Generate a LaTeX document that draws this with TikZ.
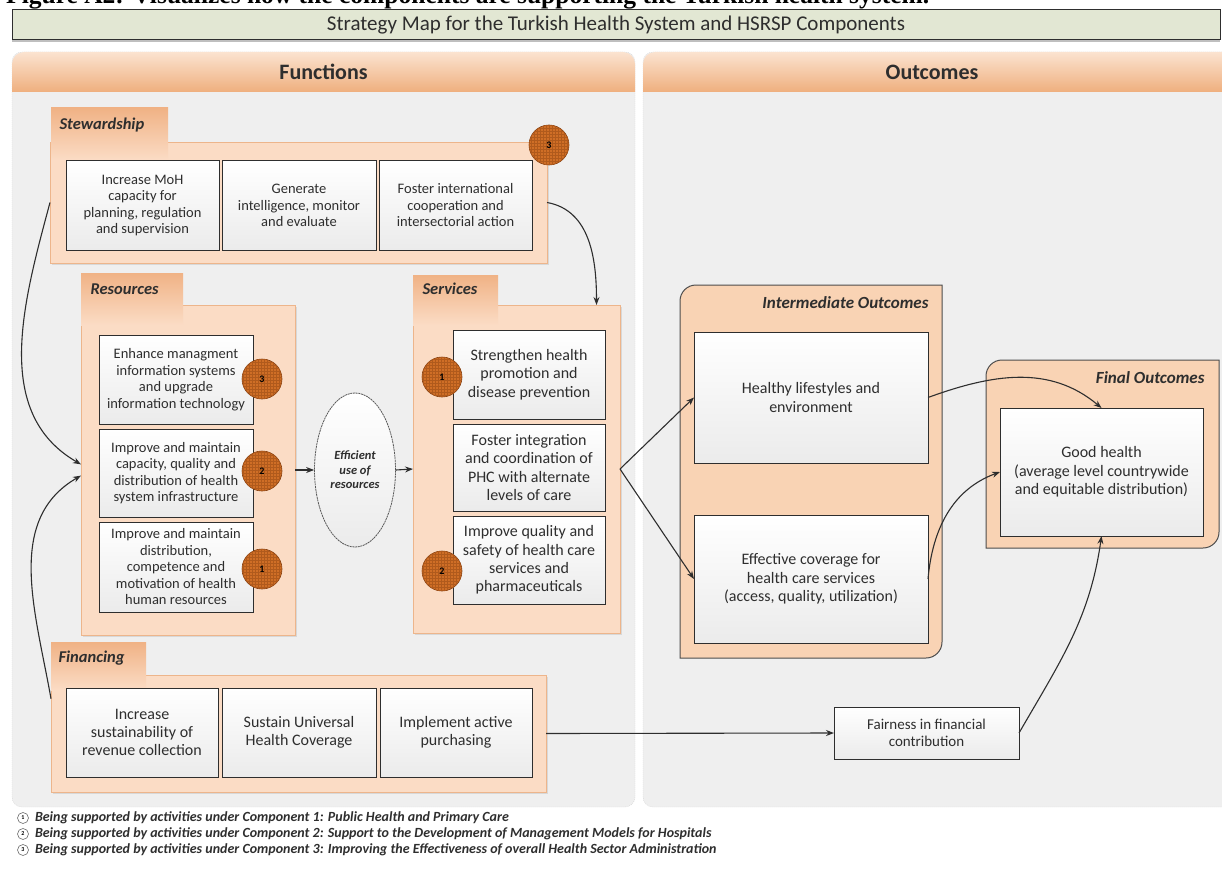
\documentclass[tikz,border=0pt]{standalone}
\usepackage{fontspec}
\setmainfont{Carlito}
\newfontfamily\captionserif{Liberation Serif}
\usepackage{xcolor}
\usetikzlibrary{arrows.meta,positioning,shadows,patterns,shapes.geometric}
\definecolor{mapink}{HTML}{2E2E2E}
\definecolor{panelgray}{HTML}{EFEFEF}
\definecolor{paneledge}{HTML}{D4D4D4}
\definecolor{headtop}{HTML}{FBE3D0}
\definecolor{headbot}{HTML}{EFAF7E}
\definecolor{grouporange}{HTML}{FBDCC5}
\definecolor{groupedge}{HTML}{EDB58B}
\definecolor{tabtop}{HTML}{F0B285}
\definecolor{outfill}{HTML}{F9D3B4}
\definecolor{badgefill}{HTML}{CF6E26}
\definecolor{badgeedge}{HTML}{7F3B0E}
\definecolor{badgegrid}{HTML}{B05A1C}
\definecolor{titlegreen}{HTML}{E2E7D3}
\definecolor{boxgray}{HTML}{EBEBEB}

\begin{document}
\begin{tikzpicture}[x=1pt,y=1pt,
  area/.style={fill=panelgray, draw=paneledge, dash pattern=on 1pt off 1pt, rounded corners=10pt},
  headbar/.style={top color=headtop, bottom color=headbot},
  headtext/.style={font=\fontsize{22}{24}\selectfont\bfseries, text=mapink},
  group/.style={rectangle, fill=grouporange, draw=groupedge, line width=0.8pt, inner sep=0pt, outer sep=0pt, drop shadow={shadow xshift=2pt, shadow yshift=-2pt, opacity=0.2}},
  tab/.style={rectangle, top color=tabtop, bottom color=grouporange, inner sep=0pt, outer sep=0pt},
  tabtext/.style={anchor=west, font=\fontsize{16.5}{18}\selectfont\bfseries\itshape, text=mapink},
  box/.style={rectangle, draw=mapink, line width=1pt, top color=white, bottom color=boxgray, align=center, inner sep=2pt, outer sep=0pt, font=\fontsize{14.5}{16.5}\selectfont, text=mapink},
  bigbox/.style={box, font=\fontsize{16}{18.3}\selectfont},
  badge/.style={circle, minimum size=40pt, inner sep=0pt, fill=badgefill, draw=badgeedge, line width=0.6pt, font=\fontsize{10}{10}\selectfont\bfseries, postaction={pattern=grid, pattern color=badgegrid}},
  outpanel/.style={fill=outfill, draw=mapink!85, line width=1pt},
  outtext/.style={anchor=east, font=\fontsize{17}{19}\selectfont\bfseries\itshape, text=mapink},
  link/.style={draw=mapink, line width=1.1pt, -{Stealth[length=8pt,width=6pt]}},
  legmark/.style={circle, draw=mapink!70, fill=white, line width=0.6pt, minimum size=11pt, inner sep=0pt, font=\fontsize{6}{6}\selectfont\bfseries},
  legtext/.style={font=\fontsize{14}{15}\selectfont\bfseries\itshape, text=mapink, inner sep=0pt}]
\useasboundingbox (0,0) rectangle (1222,-869);
\node[anchor=base west, inner sep=0pt, font=\captionserif\fontsize{25.5}{27}\selectfont\bfseries] (caption) at (6,-4) {Figure A2: Visualizes how the components are supporting the Turkish health system.};
\node[rectangle, draw=mapink, line width=1pt, fill=titlegreen, minimum width=1208pt, minimum height=30pt, font=\fontsize{21}{23}\selectfont, text=mapink, drop shadow={shadow xshift=0pt, shadow yshift=-2pt, opacity=0.5}] (title) at (616,-25) {Strategy Map for the Turkish Health System and HSRSP Components};
\path[area] (12,-52) rectangle (635,-807);
\path[area] (643,-52) rectangle (1236,-807);
\shade[headbar] (12,-92) -- (12,-64) arc[start angle=180,end angle=90,radius=12] -- (623,-52) arc[start angle=90,end angle=0,radius=12] -- (635,-92) -- cycle;
\shade[headbar] (643,-92) -- (643,-64) arc[start angle=180,end angle=90,radius=12] -- (1236,-52) -- (1236,-92) -- cycle;
\node[headtext] (functions) at (323.5,-72) {Functions};
\node[headtext] (outcomes) at (932,-72) {Outcomes};
\node[group, minimum width=497pt, minimum height=121pt] (stwpanel) at (298.5,-202.5) {};
\node[tab, minimum width=117pt, minimum height=52pt] (stwtab) at (109.5,-134) {};
\node[tabtext] (stwlabel) at (56,-125) {Stewardship};
\node[box, minimum width=153pt, minimum height=89pt] (moh) at (142.5,-205.5) {Increase MoH\\capacity for\\planning, regulation\\and supervision};
\node[box, minimum width=154pt, minimum height=89pt] (intel) at (299,-205.5) {Generate\\intelligence, monitor\\and evaluate};
\node[box, minimum width=153pt, minimum height=89pt] (intl) at (455.5,-205.5) {Foster international\\cooperation and\\intersectorial action};
\node[badge] (badgestw) at (549,-145) {3};
\node[group, minimum width=214pt, minimum height=330pt] (respanel) at (188,-470) {};
\node[tab, minimum width=102pt, minimum height=52pt] (restab) at (132,-299) {};
\node[tabtext] (reslabel) at (87,-289) {Resources};
\node[box, minimum width=154pt, minimum height=89pt] (mis) at (176,-379.5) {Enhance managment\\information systems\\and upgrade\\information technology};
\node[box, minimum width=154pt, minimum height=88pt] (infra) at (176,-473) {Improve and maintain\\capacity, quality and\\distribution of health\\system infrastructure};
\node[box, minimum width=154pt, minimum height=90pt] (hr) at (176,-567) {Improve and maintain\\distribution,\\competence and\\motivation of health\\human resources};
\node[badge] (badgemis) at (262,-379) {3};
\node[badge] (badgeinfra) at (262,-471) {2};
\node[badge] (badgehr) at (262,-569) {1};
\node[ellipse, draw=mapink!80, dash pattern=on 2pt off 0.7pt, line width=0.8pt, top color=white, bottom color=boxgray, minimum width=81pt, minimum height=154pt, inner sep=0pt, align=center, font=\fontsize{12.5}{14.5}\selectfont\bfseries\itshape, text=mapink] (eff) at (355,-470) {Efficient\\use of\\resources};
\node[group, minimum width=207pt, minimum height=328pt] (svcpanel) at (516.5,-469) {};
\node[tab, minimum width=85pt, minimum height=50pt] (svctab) at (455.5,-300) {};
\node[tabtext] (svclabel) at (419,-289) {Services};
\node[bigbox, minimum width=152pt, minimum height=89pt] (promo) at (529,-374.5) {Strengthen health\\promotion and\\disease prevention};
\node[bigbox, minimum width=152pt, minimum height=87pt] (integ) at (529,-467.5) {Foster integration\\and coordination of\\PHC with alternate\\levels of care};
\node[bigbox, minimum width=152pt, minimum height=88pt] (quality) at (529,-560) {Improve quality and\\safety of health care\\services and\\pharmaceuticals};
\node[badge] (badgepromo) at (442,-377) {1};
\node[badge] (badgequality) at (442,-571) {2};
\path[outpanel] (942,-285) -- (696,-285) arc[start angle=90,end angle=180,radius=16] -- (680,-658) -- (926,-658) arc[start angle=270,end angle=360,radius=16] -- cycle;
\node[outtext] (interlabel) at (932,-303) {Intermediate Outcomes};
\node[bigbox, minimum width=234pt, minimum height=131pt] (healthy) at (811,-397.5) {Healthy lifestyles and\\environment};
\node[bigbox, minimum width=234pt, minimum height=128pt] (coverage) at (811,-579) {Effective coverage for\\health care services\\(access, quality, utilization)};
\path[outpanel] (1219,-360) -- (1002,-360) arc[start angle=90,end angle=180,radius=16] -- (986,-548) -- (1203,-548) arc[start angle=270,end angle=360,radius=16] -- cycle;
\node[outtext] (finallabel) at (1208,-378) {Final Outcomes};
\node[bigbox, minimum width=203pt, minimum height=128pt] (goodhealth) at (1101.5,-472) {Good health\\(average level countrywide\\and equitable distribution)};
\node[group, minimum width=495pt, minimum height=117pt] (finpanel) at (298.5,-733.5) {};
\node[tab, minimum width=95pt, minimum height=48pt] (fintab) at (98.5,-666) {};
\node[tabtext] (finlabel) at (55,-658) {Financing};
\node[bigbox, minimum width=152pt, minimum height=89pt] (revenue) at (142,-732.5) {Increase\\sustainability of\\revenue collection};
\node[bigbox, minimum width=154pt, minimum height=89pt] (uhc) at (299,-732.5) {Sustain Universal\\Health Coverage};
\node[bigbox, minimum width=152pt, minimum height=89pt] (purchasing) at (456,-732.5) {Implement active\\purchasing};
\node[bigbox, font=\fontsize{15}{17}\selectfont, minimum width=185pt, minimum height=52pt] (fairness) at (926.5,-733) {Fairness in financial\\contribution};
\node[legmark] (leg1) at (23,-818) {1};
\node[legmark] (leg2) at (23,-834) {2};
\node[legmark] (leg3) at (23,-850) {3};
\node[legtext, right=6pt of leg1] (legtext1) {Being supported by activities under Component 1: Public Health and Primary Care};
\node[legtext, right=6pt of leg2] (legtext2) {Being supported by activities under Component 2: Support to the Development of Management Models for Hospitals};
\node[legtext, right=6pt of leg3] (legtext3) {Being supported by activities under Component 3: Improving the Effectiveness of overall Health Sector Administration};
\draw[link] (stwpanel.west) to[out=255,in=150] (respanel.177);
\draw[link] (finpanel.172) to[out=100,in=210] (respanel.183);
\draw[link] (stwpanel.east) to[out=-10,in=90] (svcpanel.64);
\draw[link] (respanel.east) -- (eff.west);
\draw[link] (eff.east) -- (svcpanel.west);
\draw[link] (svcpanel.east) -- (healthy.west);
\draw[link] (svcpanel.east) -- (coverage.west);
\draw[link] (healthy.east) to[out=20,in=140] (goodhealth.north);
\draw[link] (coverage.east) to[out=85,in=200] (goodhealth.west);
\draw[link] (finpanel.east) -- (fairness.west);
\draw[link] (fairness.east) to[out=60,in=262] (goodhealth.south);
\end{tikzpicture}
\end{document}
